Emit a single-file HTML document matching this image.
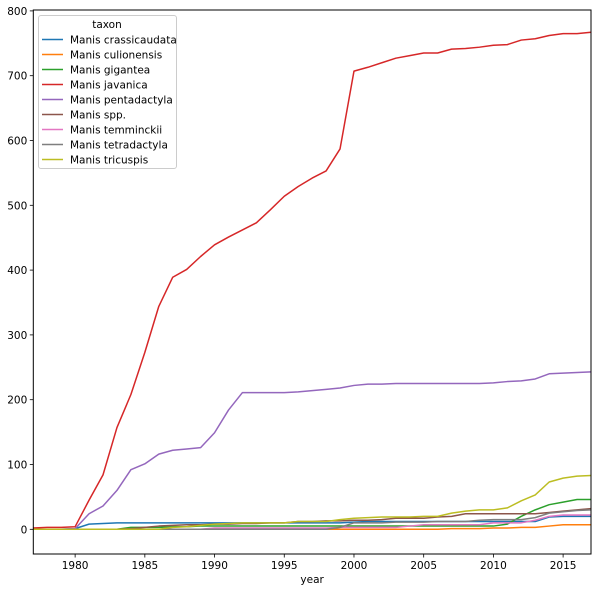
<!DOCTYPE html>
<html><head><meta charset="utf-8"><style>
body{margin:0;background:#fff;}
svg{display:block;font-family:"DejaVu Sans","Liberation Sans",sans-serif;}
</style></head><body>
<svg id="chart" width="602" height="592" viewBox="0 0 602 592" xmlns="http://www.w3.org/2000/svg">
<g id="plot"></g>
<g id="axes"></g>
<g id="legend"></g>
</svg>
<script>
const years = [];
for (let y = 1977; y <= 2017; y++) years.push(y);
const seriesNames = ["Manis crassicaudata","Manis culionensis","Manis gigantea","Manis javanica","Manis pentadactyla","Manis spp.","Manis temminckii","Manis tetradactyla","Manis tricuspis"];
const seriesColors = ["#1f77b4","#ff7f0e","#2ca02c","#d62728","#9467bd","#8c564b","#e377c2","#7f7f7f","#bcbd22"];
const crassicaudata = [0,0,0,1,8,9,10,10,10,10,10,10,10,10,10,10,10,10,10,10,10,10,10,11,12,12,12,12,12,12,12,12,12,12,12,12,12,19,20,20,20];
const culionensis = [0,0,0,0,0,0,0,0,0,0,0,0,0,0,0,0,0,0,0,0,0,0,0,0,0,0,0,0,0,0,1,1,1,2,2,3,3,5,7,7,7];
const gigantea = [0,0,0,0,0,0,0,3,3,3,4,4,5,5,5,5,5,5,5,5,5,5,5,5,5,5,5,5,5,5,5,5,5,5,8,20,30,38,42,46,46];
const javanica = [2,3,3,4,45,84,157,208,273,344,389,401,421,439,451,462,473,493,514,529,542,553,587,707,713,720,727,731,735,735,741,742,744,747,748,755,757,762,765,765,767];
const pentadactyla = [0,0,0,1,24,36,60,92,101,116,122,124,126,149,184,211,211,211,211,212,214,216,218,222,224,224,225,225,225,225,225,225,225,226,228,229,232,240,241,242,243];
const spp = [0,0,0,0,0,0,0,1,3,5,6,7,7,8,8,9,9,10,10,12,12,13,13,14,14,15,17,17,17,19,20,24,24,24,24,24,24,26,28,30,32];
const temminckii = [0,0,0,0,0,0,0,0,0,0,0,0,0,2,2,2,2,2,2,2,2,2,3,3,3,3,3,5,7,7,7,7,7,10,10,10,14,20,22,22,22];
const tetradactyla = [0,0,0,0,0,0,0,0,0,0,0,0,0,0,0,0,0,0,0,0,0,0,3,10,10,10,11,11,11,12,12,12,14,15,15,15,18,25,27,29,30];
const tricuspis = [0,0,0,0,0,0,0,0,0,0,3,4,6,8,9,10,10,10,10,12,12,12,15,17,18,19,19,19,20,20,25,28,30,30,33,44,53,73,79,82,83];
const allSeries = [crassicaudata,culionensis,gigantea,javanica,pentadactyla,spp,temminckii,tetradactyla,tricuspis];
const xTicks = [1980,1985,1990,1995,2000,2005,2010,2015];
const yTicks = [0,100,200,300,400,500,600,700,800];

const L=33.3,R=591,T=10,B=554;
const xmin=1977,xmax=2017,ymin=-38.1,ymax=808;
const x = v => L + (v-xmin)/(xmax-xmin)*(R-L);
const y = v => 529.3 - v*0.648;
const NS="http://www.w3.org/2000/svg";
function mk(tag, attrs, parent){const e=document.createElementNS(NS,tag);for(const k in attrs)e.setAttribute(k,attrs[k]);parent.appendChild(e);return e;}

const plot=document.getElementById('plot');
const axes=document.getElementById('axes');
const legend=document.getElementById('legend');

allSeries.forEach((s,i)=>{
  const d=s.map((v,j)=>(j?'L':'M')+x(years[j]).toFixed(2)+' '+y(v).toFixed(2)).join(' ');
  const p=mk('path',{d:d,fill:'none',stroke:seriesColors[i],'stroke-width':1.5,'stroke-linejoin':'round'},plot);
  
  
});

const frame=mk('rect',{x:L,y:T,width:R-L,height:B-T,fill:'none',stroke:'#000','stroke-width':1},axes);



xTicks.forEach(t=>{
  const tk=mk('line',{x1:x(t),x2:x(t),y1:B,y2:B+3.5,stroke:'#000','stroke-width':0.8},axes);
  
  
  const lb=mk('text',{x:x(t),y:B+15,'font-size':10.5,'text-anchor':'middle',fill:'#000'},axes);
  lb.textContent=t;
  
  
});
yTicks.forEach(t=>{
  const tk=mk('line',{x1:L-3.5,x2:L,y1:y(t),y2:y(t),stroke:'#000','stroke-width':0.8},axes);
  
  
  const lb=mk('text',{x:L-6,y:y(t)+4,'font-size':10.5,'text-anchor':'end',fill:'#000'},axes);
  lb.textContent=t;
  
  
});
const xt=mk('text',{x:(L+R)/2,y:583,'font-size':10.5,'text-anchor':'middle',fill:'#000'},axes);
xt.textContent='year';



const lbox=mk('rect',{x:38.5,y:15.5,width:138,height:153,rx:2.5,fill:'#fff','fill-opacity':0.8,stroke:'#ccc','stroke-width':1},legend);


const lt=mk('text',{x:107,y:28,'font-size':10.5,'text-anchor':'middle',fill:'#000'},legend);
lt.textContent='taxon';


seriesNames.forEach((n,i)=>{
  const yy=39.5+i*15;
  const ln=mk('line',{x1:42,x2:63,y1:yy,y2:yy,stroke:seriesColors[i],'stroke-width':1.5},legend);
  
  
  const tx=mk('text',{x:70,y:yy+3.8,'font-size':10.5,fill:'#000'},legend);
  tx.textContent=n;
  
  
});
</script>
</body></html>
